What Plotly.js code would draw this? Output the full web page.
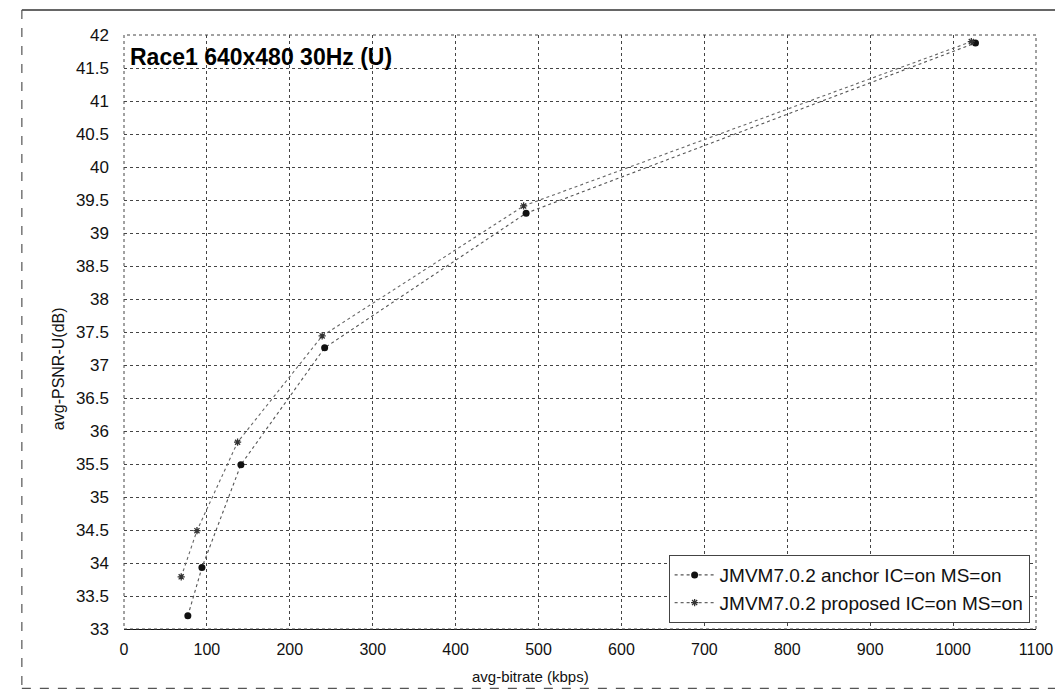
<!DOCTYPE html>
<html>
<head>
<meta charset="utf-8">
<script src="https://cdn.plot.ly/plotly-3.0.1.min.js"></script>
<style>html,body{margin:0;padding:0;background:#fff;}#chart{width:1055px;height:691px;}</style>
</head>
<body>
<div id="chart"></div>
<script>
const anchorName = "JMVM7.0.2 anchor IC=on MS=on";
const proposedName = "JMVM7.0.2 proposed IC=on MS=on";
const anchorBitrate = [77, 94, 141, 242, 485, 1027];
const anchorPSNR = [33.2, 33.93, 35.49, 37.26, 39.3, 41.88];
const proposedBitrate = [69, 88, 137, 239, 482, 1022];
const proposedPSNR = [33.79, 34.49, 35.83, 37.44, 39.41, 41.9];
const xTicks = [0,100,200,300,400,500,600,700,800,900,1000,1100];
const yTicks = [33,33.5,34,34.5,35,35.5,36,36.5,37,37.5,38,38.5,39,39.5,40,40.5,41,41.5,42];
const xTitle = "avg-bitrate (kbps)";
const yTitle = "avg-PSNR-U(dB)";
const chartTitle = "Race1 640x480 30Hz (U)";

const font = "Liberation Sans, Arial, sans-serif";
const traces = [
  {x: anchorBitrate, y: anchorPSNR, name: anchorName, type: "scatter", mode: "lines+markers",
   line: {color: "#555", width: 1.1, dash: "dot"},
   marker: {symbol: "circle", size: 7, color: "#111"}},
  {x: proposedBitrate, y: proposedPSNR, name: proposedName, type: "scatter", mode: "lines+markers",
   line: {color: "#666", width: 1.1, dash: "dot"},
   marker: {symbol: "asterisk-open", size: 6, color: "#333", line: {width: 1.3, color: "#333"}}}
];
const layout = {
  width: 1055, height: 691,
  margin: {l: 124, r: 19, t: 35, b: 62},
  paper_bgcolor: "#fff", plot_bgcolor: "#fff",
  font: {family: font, color: "#111", size: 16},
  showlegend: true,
  legend: {x: 0.993, xanchor: "right", y: 0.01, yanchor: "bottom",
           bgcolor: "#fff", bordercolor: "#444", borderwidth: 1,
           itemwidth: 40, tracegroupgap: 4,
           font: {family: font, size: 19, color: "#111"}},
  xaxis: {range: [0, 1100], tickvals: xTicks, ticktext: xTicks.map(String),
          showgrid: true, gridcolor: "#444", griddash: "dot", gridwidth: 1,
          zeroline: false, showline: true, linecolor: "#111", linewidth: 1.2,
          ticks: "", ticklabelstandoff: 6, tickfont: {size: 16}},
  yaxis: {range: [33, 42], tickvals: yTicks, ticktext: yTicks.map(String),
          showgrid: true, gridcolor: "#444", griddash: "dot", gridwidth: 1,
          zeroline: false, showline: false, ticks: "", ticklabelstandoff: 14, tickfont: {size: 17}},
  shapes: [
    {type: "rect", xref: "paper", yref: "paper", x0: 0, x1: 1, y0: 0, y1: 1,
     line: {color: "#444", width: 1, dash: "dot"}},
    {type: "line", xref: "paper", yref: "paper", x0: -0.112, x1: 1.021, y0: 1.042, y1: 1.042,
     line: {color: "#333", width: 1.5}},
    {type: "line", xref: "paper", yref: "paper", x0: -0.112, x1: -0.112, y0: 1.042, y1: -0.1,
     line: {color: "#555", width: 1.2, dash: "dash"}},
    {type: "line", xref: "paper", yref: "paper", x0: -0.112, x1: 1.021, y0: -0.1, y1: -0.1,
     line: {color: "#555", width: 1.2, dash: "dash"}}
  ],
  annotations: [
    {text: "<b>" + chartTitle + "</b>", xref: "paper", yref: "paper", x: 0.004, y: 0.988,
     xanchor: "left", yanchor: "top", showarrow: false, font: {family: font, size: 23, color: "#000"}},
    {text: xTitle, xref: "paper", yref: "paper", x: 0.446, y: -0.08,
     xanchor: "center", yanchor: "middle", showarrow: false, font: {family: font, size: 15, color: "#111"}},
    {text: yTitle, xref: "paper", yref: "paper", x: -0.072, y: 0.438, textangle: -90,
     xanchor: "center", yanchor: "middle", showarrow: false, font: {family: font, size: 16, color: "#111"}}
  ]
};
Plotly.newPlot("chart", traces, layout, {displayModeBar: false, staticPlot: true});
</script>
</body>
</html>
